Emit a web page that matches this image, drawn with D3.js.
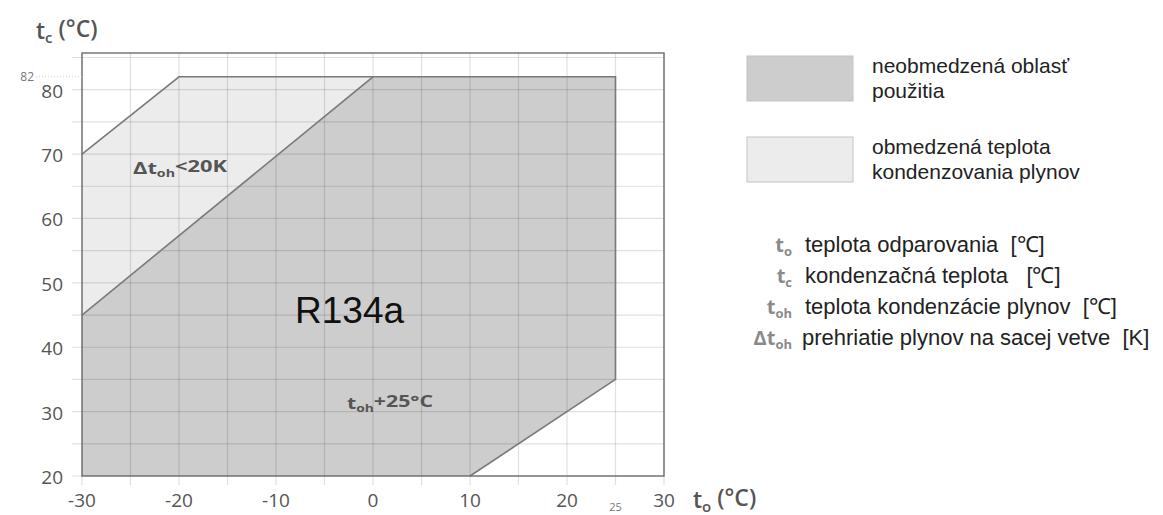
<!DOCTYPE html>
<html>
<head>
<meta charset="utf-8">
<script src="https://cdn.jsdelivr.net/npm/d3@7"></script>
<style>
  body { margin: 0; background: #fff; }
  svg { display: block; }
  text { white-space: pre; }
</style>
</head>
<body>
<div id="chart"></div>
<script>
// data
var xTicks = [-30, -20, -10, 0, 10, 20, 30];
var yTicks = [20, 30, 40, 50, 60, 70, 80];
var gridX = d3.range(-30, 31, 5);
var gridY = d3.range(20, 86, 5);

// unrestricted area (t_o, t_c)
var fullArea = [[-30, 20], [-30, 45], [0, 82], [25, 82], [25, 35], [10, 20]];
// restricted discharge temperature area
var limitArea = [[-30, 45], [-30, 70], [-20, 82], [0, 82]];

var legendItems = [
    { fill: "#cdcdcd", lines: ["neobmedzená oblasť", "použitia"] },
    { fill: "#ececec", lines: ["obmedzená teplota", "kondenzovania plynov"] }
];
var symbolItems = [
    { sym: "t", sub: "o", text: "teplota odparovania  [℃]" },
    { sym: "t", sub: "c", text: "kondenzačná teplota   [℃]" },
    { sym: "t", sub: "oh", text: "teplota kondenzácie plynov  [℃]" },
    { sym: "Δt", sub: "oh", text: "prehriatie plynov na sacej vetve  [K]" }
];

var W = 1163, H = 515;
var svg = d3.select("#chart").append("svg")
    .attr("width", W)
    .attr("height", H);

var x = d3.scaleLinear().domain([-30, 30]).range([82, 664]);
var y = d3.scaleLinear().domain([20, 85.7]).range([476, 53]);

var line = d3.line()
    .x(function (d) { return x(d[0]); })
    .y(function (d) { return y(d[1]); });

// areas
svg.append("path")
    .attr("d", line(fullArea) + "Z")
    .attr("fill", "#cdcdcd");
svg.append("path")
    .attr("d", line(limitArea) + "Z")
    .attr("fill", "#ececec");

// grid
svg.append("g").selectAll("line")
    .data(gridX)
    .enter().append("line")
    .attr("x1", function (d) { return x(d); })
    .attr("x2", function (d) { return x(d); })
    .attr("y1", y(85.7))
    .attr("y2", y(20) + 9)
    .attr("stroke", "rgba(0,0,0,0.12)")
    .attr("stroke-width", 1.2);
svg.append("g").selectAll("line")
    .data(gridY)
    .enter().append("line")
    .attr("x1", x(-30) - 10)
    .attr("x2", x(30))
    .attr("y1", function (d) { return y(d); })
    .attr("y2", function (d) { return y(d); })
    .attr("stroke", "rgba(0,0,0,0.12)")
    .attr("stroke-width", 1.2);

// outlines
svg.append("path")
    .attr("d", line(fullArea.slice(1).concat([[10, 20]])))
    .attr("fill", "none")
    .attr("stroke", "#7a7a7a")
    .attr("stroke-width", 1.6);
svg.append("path")
    .attr("d", line([[-30, 70], [-20, 82], [0, 82]]))
    .attr("fill", "none")
    .attr("stroke", "#7a7a7a")
    .attr("stroke-width", 1.6);

// frame
svg.append("rect")
    .attr("x", x(-30))
    .attr("y", y(85.7))
    .attr("width", x(30) - x(-30))
    .attr("height", y(20) - y(85.7))
    .attr("fill", "none")
    .attr("stroke", "#6e6e6e")
    .attr("stroke-width", 1.4);

// tick labels
svg.append("g").selectAll("text")
    .data(xTicks)
    .enter().append("text")
    .attr("x", function (d) { return x(d); })
    .attr("y", 507)
    .attr("text-anchor", "middle")
    .style("font-family", "'Open Sans', sans-serif")
    .style("font-size", "19px")
    .style("fill", "#555")
    .text(function (d) { return d; });
svg.append("g").selectAll("text")
    .data(yTicks)
    .enter().append("text")
    .attr("x", 63)
    .attr("y", function (d) { return y(d) + 8; })
    .attr("text-anchor", "end")
    .style("font-family", "'Open Sans', sans-serif")
    .style("font-size", "19px")
    .style("fill", "#555")
    .text(function (d) { return d; });

// small extra labels 82 and 25
svg.append("text")
    .attr("x", 34).attr("y", y(82) + 4)
    .attr("text-anchor", "end")
    .style("font-family", "'Open Sans', sans-serif")
    .style("font-size", "12px")
    .style("fill", "#777")
    .text("82");
svg.append("line")
    .attr("x1", 36).attr("x2", x(-30))
    .attr("y1", y(82)).attr("y2", y(82))
    .attr("stroke", "#ccc")
    .attr("stroke-dasharray", "1,2");
svg.append("text")
    .attr("x", x(25)).attr("y", 511)
    .attr("text-anchor", "middle")
    .style("font-family", "'Open Sans', sans-serif")
    .style("font-size", "11px")
    .style("fill", "#777")
    .text("25");

// axis titles
function symText(sel, main, sub, rest) {
    sel.append("tspan").text(main);
    sel.append("tspan").attr("dy", "0.3em").style("font-size", "65%").text(sub);
    if (rest) sel.append("tspan").attr("dy", "-0.3em").text(rest);
}
var yTitle = svg.append("text")
    .attr("x", 36).attr("y", 39)
    .style("font-family", "'Open Sans', sans-serif")
    .style("font-size", "23px")
    .style("font-weight", "600")
    .style("fill", "#555");
symText(yTitle, "t", "c", " (°C)");
var xTitle = svg.append("text")
    .attr("x", 693).attr("y", 508)
    .style("font-family", "'Open Sans', sans-serif")
    .style("font-size", "23px")
    .style("font-weight", "600")
    .style("fill", "#555");
symText(xTitle, "t", "o", " (°C)");

// labels inside the chart
var lab1 = svg.append("text")
    .attr("x", 133).attr("y", 174)
    .attr("textLength", 94)
    .attr("lengthAdjust", "spacingAndGlyphs")
    .style("font-family", "'Open Sans', sans-serif")
    .style("font-size", "16px")
    .style("font-weight", "bold")
    .style("fill", "#555");
symText(lab1, "Δt", "oh", "<20K");
var lab2 = svg.append("text")
    .attr("x", 347).attr("y", 409)
    .attr("textLength", 86)
    .attr("lengthAdjust", "spacingAndGlyphs")
    .style("font-family", "'Open Sans', sans-serif")
    .style("font-size", "16px")
    .style("font-weight", "bold")
    .style("fill", "#555");
symText(lab2, "t", "oh", "+25°C");

svg.append("text")
    .attr("x", 295).attr("y", 323)
    .style("font-family", "'Liberation Sans', Arial, sans-serif")
    .style("font-size", "37px")
    .style("fill", "#111")
    .text("R134a");

// legend boxes
var leg = svg.append("g").selectAll("g")
    .data(legendItems)
    .enter().append("g")
    .attr("transform", function (d, i) { return "translate(0," + (i * 81) + ")"; });
leg.append("rect")
    .attr("x", 747).attr("y", 56)
    .attr("width", 106).attr("height", 45)
    .attr("fill", function (d) { return d.fill; })
    .attr("stroke", "#c4c4c4");
leg.append("text")
    .attr("x", 872).attr("y", 73)
    .style("font-family", "'Liberation Sans', Arial, sans-serif")
    .style("font-size", "21px")
    .style("fill", "#222")
    .selectAll("tspan")
    .data(function (d) { return d.lines; })
    .enter().append("tspan")
    .attr("x", 872)
    .attr("dy", function (d, i) { return i === 0 ? 0 : 25; })
    .text(function (d) { return d; });

// symbol list
var sy = svg.append("g").selectAll("g")
    .data(symbolItems)
    .enter().append("g")
    .attr("transform", function (d, i) { return "translate(0," + (252 + i * 31) + ")"; });
sy.append("text")
    .attr("x", 792)
    .attr("text-anchor", "end")
    .style("font-family", "'Open Sans', sans-serif")
    .style("font-size", "20px")
    .style("font-weight", "bold")
    .style("fill", "#8a8a8a")
    .each(function (d) { symText(d3.select(this), d.sym, d.sub); });
sy.append("text")
    .attr("x", function (d, i) { return i === 3 ? 802 : 805; })
    .style("font-family", "'Liberation Sans', Arial, sans-serif")
    .style("font-size", "22px")
    .style("fill", "#222")
    .text(function (d) { return d.text; });
</script>
</body>
</html>
